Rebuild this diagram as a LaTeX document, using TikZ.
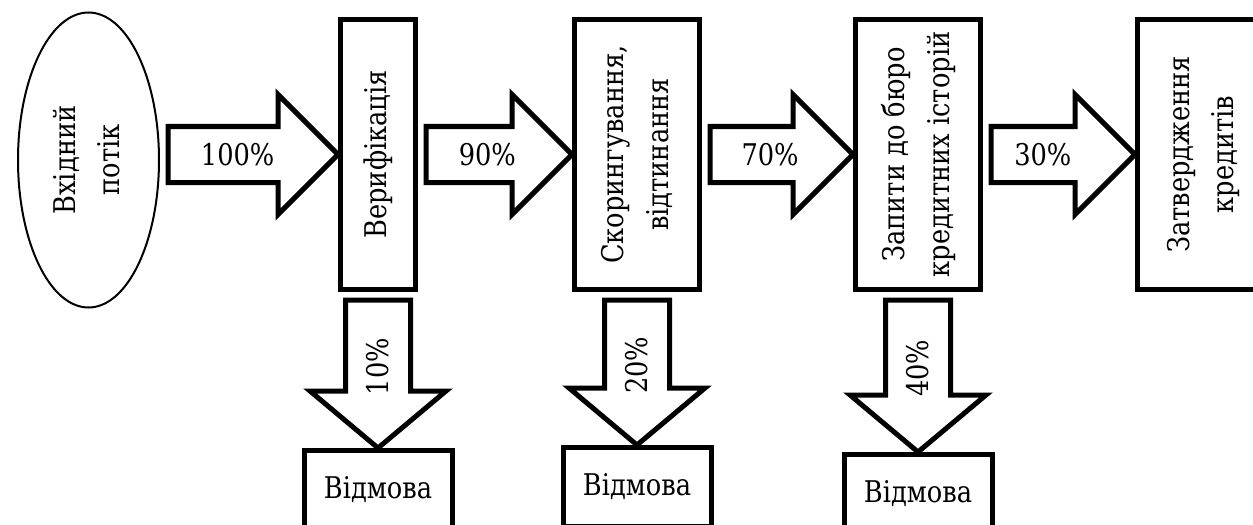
\documentclass[tikz,border=0pt]{standalone}
\usepackage{fontspec}
\setmainfont{DejaVu Serif}[FakeStretch=0.86]
\usepackage{graphicx}
\usepackage{tikz}
\usetikzlibrary{calc, positioning, shapes}

\newcommand{\vtext}[1]{\rotatebox{90}{\begin{tabular}{@{}c@{}}#1\end{tabular}}}

\begin{document}
\begin{tikzpicture}[
stage/.style={
	rectangle,
	draw,
	line width=0.1cm,
	minimum width=2.5cm,
	minimum height=5.4cm,
	inner sep=0mm,
	align=center,
	font=\fontsize{17}{25.5}\selectfont},
source/.style={
	ellipse,
	draw,
	line width=0.04cm,
	minimum width=2.82cm,
	minimum height=5.9cm,
	inner sep=0mm,
	font=\fontsize{17}{25.5}\selectfont},
reject/.style={
	rectangle,
	draw,
	line width=0.1cm,
	minimum width=2.96cm,
	minimum height=1.58cm,
	inner sep=0mm,
	font=\fontsize{17}{25.5}\selectfont},
fat/.style={
	draw,
	fill=white,
	line width=0.1cm,
	line join=miter},
pct/.style={
	inner sep=0mm,
	font=\fontsize{17}{25.5}\selectfont}]

\useasboundingbox (0,0) rectangle (25.06,-10.48);
\clip (0,0) rectangle (25.06,-10.48);

%Stages

\node[stage, minimum width=1.5cm] (verif) at (7.56,-3.09) {\vtext{Верифікація}};
\node[stage, right = 3.08cm of verif] (scor) {\vtext{Скорингування,\\відтинання}};
\node[stage, right = 3.02cm of scor] (zap) {\vtext{Запити до бюро\\кредитних історій}};
\node[stage, right = 3.04cm of zap, minimum width=2.6cm] (zat) {\vtext{Затвердження\\кредитів}};

\node[source, left = 3.56cm of verif, yshift=-0.11cm] (in) {\vtext{Вхідний\\потік}};

%Rejections

\node[reject, below = 3.12cm of verif] (rej1) {Відмова};
\node[reject, below = 3.06cm of scor] (rej2) {Відмова};
\node[reject, below = 3.2cm of zap] (rej3) {Відмова};

\foreach \a/\b/\p/\val in {in/verif/.41/100\%, verif/scor/.42/90\%, scor/zap/.42/70\%, zap/zat/.36/30\%} {
	\coordinate (s) at ($(\a.east |- \b.west)+(0.16,0)$);
	\coordinate (h) at ($(\b.west)+(-1.2,0)$);
	\draw[fat] ($(s)+(0,0.56)$) -- ($(h)+(0,0.56)$) -- ($(h)+(0,1.2)$) -- (\b.west) -- ($(h)+(0,-1.2)$) -- ($(h)+(0,-0.56)$) -- ($(s)+(0,-0.56)$) -- cycle;
	\node[pct] at ($(s)!\p!(\b.west)$) {\val};
}

\foreach \b/\r/\val in {verif/rej1/10\%, scor/rej2/20\%, zap/rej3/40\%} {
	\coordinate (s) at ($(\r.north |- \b.south)+(0,-0.16)$);
	\coordinate (h) at ($(\r.north)+(0,1.14)$);
	\draw[fat] ($(s)+(-0.65,0)$) -- ($(h)+(-0.65,0)$) -- ($(h)+(-1.36,0)$) -- (\r.north) -- ($(h)+(1.36,0)$) -- ($(h)+(0.65,0)$) -- ($(s)+(0.65,0)$) -- cycle;
	\node[pct, rotate=90] at ($(s)!.45!(\r.north)$) {\val};
}

\end{tikzpicture}
\end{document}
